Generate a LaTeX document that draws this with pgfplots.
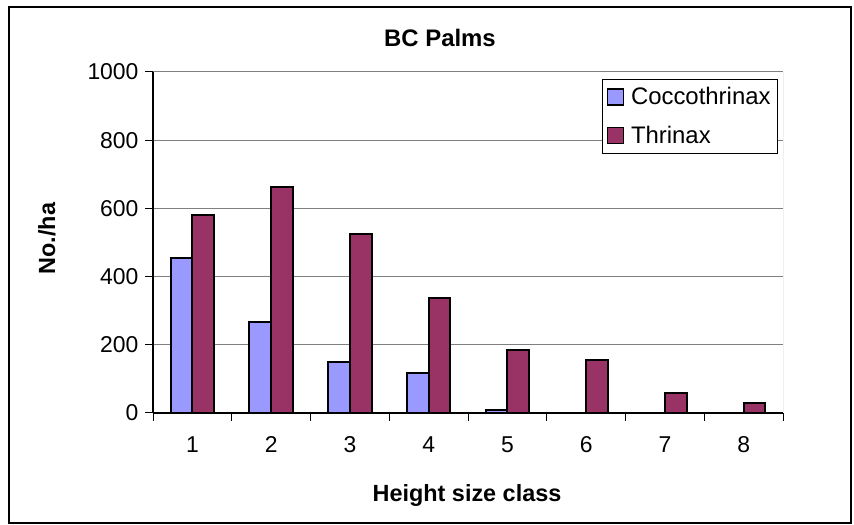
\documentclass[border=0pt]{standalone}
\usepackage{fontspec}
\setmainfont{Liberation Sans}
\usepackage{pgfplots}
\pgfplotsset{compat=1.18}

\definecolor{cocco}{HTML}{9999FF}
\definecolor{thrin}{HTML}{993366}
\definecolor{gridgray}{HTML}{808080}

\begin{document}
\begin{tikzpicture}
\useasboundingbox (0bp,0bp) rectangle (854bp,525bp);
\draw[line width=1.2bp] (9bp,2bp) rectangle (851bp,518bp);

\begin{axis}[
    at={(153bp,112bp)}, anchor=south west,
    scale only axis,
    width=630bp, height=341bp,
    ybar=0pt, bar width=21.7bp,
    xmin=0.5, xmax=8.5,
    ymin=0, ymax=1000,
    xtick={1,...,8},
    minor xtick={0.5,1.5,...,8.5},
    ytick={0,200,...,1000},
    axis lines*=left,
    axis line style={line width=1.3bp, black},
    tick align=outside,
    major tick length=8bp,
    minor tick length=8bp,
    xtick style={draw=none},
    minor x tick style={draw=black, line width=1bp},
    ytick style={black, line width=1bp},
    ymajorgrids,
    major grid style={gridgray, line width=1bp},
    /pgf/number format/assume math mode=true,
    /pgf/number format/set thousands separator={},
    tick label style={font=\fontsize{23}{27}\selectfont},
    xticklabel style={yshift=-12bp},
    yticklabel style={xshift=-3bp},
    legend style={at={(0.992,0.979)}, anchor=north east,
        draw=black, line width=0.8bp,
        font=\fontsize{24}{28}\selectfont,
        inner xsep=4bp, inner ysep=8bp,
        row sep=20bp,
        nodes={inner xsep=3bp, inner ysep=0bp},
        /tikz/every odd column/.append style={column sep=4bp}},
    legend cell align=left,
    legend image code/.code={\draw[#1, draw=black, line width=1.2bp] (0bp,-8bp) rectangle (16bp,8bp);},
]
\addplot[fill=cocco, draw=black, line width=2bp]
    coordinates {(1,454) (2,267) (3,150) (4,116) (5,10) (6,0) (7,0) (8,0)};
\addplot[fill=thrin, draw=black, line width=2bp]
    coordinates {(1,582) (2,664) (3,525) (4,337) (5,186) (6,156) (7,58) (8,29)};
\legend{Coccothrinax, Thrinax}
\draw[gridgray, line width=1bp] (rel axis cs:1,0) -- (rel axis cs:1,1);
\end{axis}

\node[anchor=base, font=\fontsize{24}{28}\selectfont\bfseries] at (440bp,478.3bp) {BC Palms};
\node[anchor=base, font=\fontsize{23.5}{28}\selectfont\bfseries] at (467bp,23.3bp) {Height size class};
\node[anchor=base, rotate=90, font=\fontsize{23.5}{28}\selectfont\bfseries] at (55bp,286.5bp) {No./ha};
\end{tikzpicture}
\end{document}
